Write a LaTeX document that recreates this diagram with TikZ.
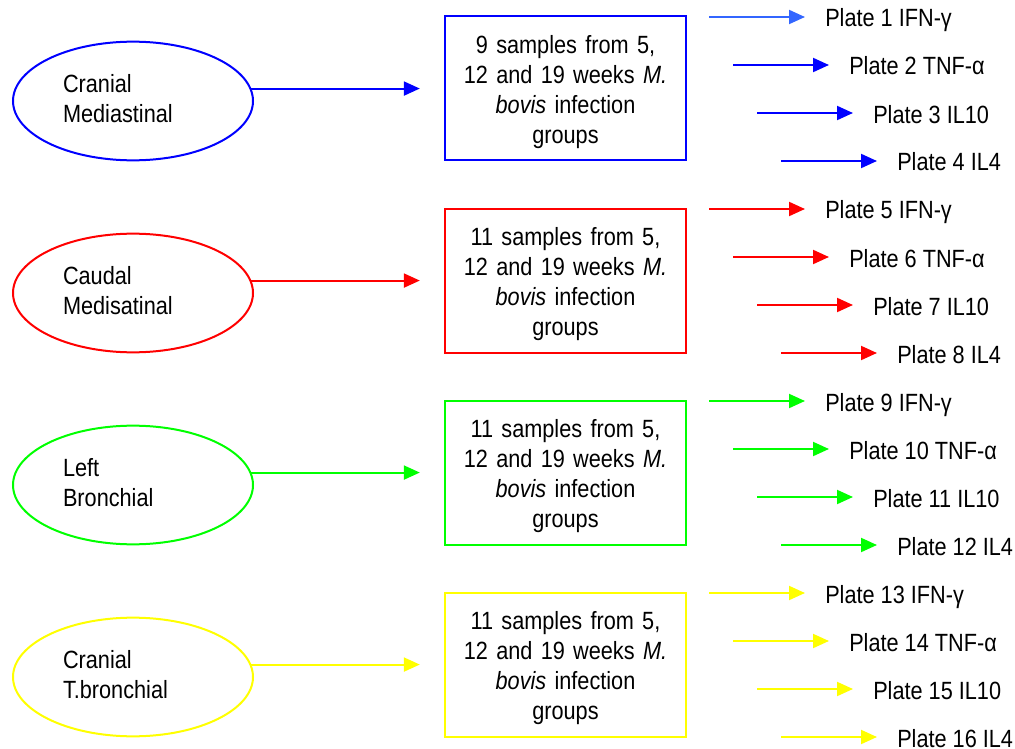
\documentclass[tikz,border=0pt]{standalone}
\usepackage{fontspec}
\setmainfont{Liberation Sans}[FakeStretch=0.87]
\usetikzlibrary{arrows.meta,shapes}
\definecolor{lightblue}{RGB}{51,102,255}
\definecolor{brightgreen}{RGB}{0,255,0}
\definecolor{brightyellow}{RGB}{255,255,0}
\tikzstyle{site}=[ellipse, draw
,line width=1.5pt
,minimum width=180pt
,minimum height=89pt
,inner sep=0pt
,text width=105pt, align=left
,execute at end node={\rule[-4.5pt]{0pt}{0pt}}
]
\tikzstyle{samplebox}=[rectangle, draw, line width=1.5pt
,minimum width=181pt, minimum height=108pt
,inner sep=0pt, text width=165pt, align=center
,execute at begin node={\rule{0pt}{19.5pt}}]
\tikzstyle{plate}=[anchor=base west, inner sep=0pt]
\tikzstyle{edge} = [draw, line width=1.5pt, -{Triangle[length=12pt,width=10.5pt]}]
\newcommand{\sampletext}[1]{#1 samples from 5,\\12 and 19 weeks \textit{M.}\\\textit{bovis} infection\\groups}

\begin{document}
\begin{tikzpicture}[x=0.75pt,y=-0.75pt,font=\fontsize{18.7pt}{22.5pt}\selectfont]
    \useasboundingbox (0,0) rectangle (1015,749);
    % First the lymph node sites and the sample boxes
    \foreach \y/\name/\col/\txt/\num in {{101/CM/blue/{Cranial\\Mediastinal}/9},
        {293/CD/red/{Caudal\\Medisatinal}/11}, {485/LB/brightgreen/{Left\\Bronchial}/11},
        {677/TB/brightyellow/{Cranial\\T.bronchial}/11}}
    {
        \node[site, draw=\col] (\name) at (133,\y) {\txt};
        \node[samplebox, draw=\col] (\name box) at (565.5,\y-12.5) {\sampletext{\num}};
        \path[edge, draw=\col, fill=\col, shorten >=18pt] (\name.6) -- (\name.6 -| \name box.west);
    }

    % Then the plates with their arrows
    \foreach \n/\cyt/\col in {1/IFN-γ/lightblue, 2/TNF-α/blue, 3/IL10/blue, 4/IL4/blue,
        5/IFN-γ/red, 6/TNF-α/red, 7/IL10/red, 8/IL4/red,
        9/IFN-γ/brightgreen, 10/TNF-α/brightgreen, 11/IL10/brightgreen, 12/IL4/brightgreen,
        13/IFN-γ/brightyellow, 14/TNF-α/brightyellow, 15/IL10/brightyellow, 16/IL4/brightyellow}
    {
        \pgfmathsetmacro\py{17+48*(\n-1)}
        \pgfmathsetmacro\px{24*mod(\n-1,4)}
        \coordinate (s\n) at (709+\px,\py);
        \node[plate] (P\n) at (825+\px,\py+10) {Plate \n\ \cyt};
        \path[edge, draw=\col, fill=\col, shorten >=15pt] (s\n) -- (s\n -| P\n.west);
    }
\end{tikzpicture}
\end{document}
